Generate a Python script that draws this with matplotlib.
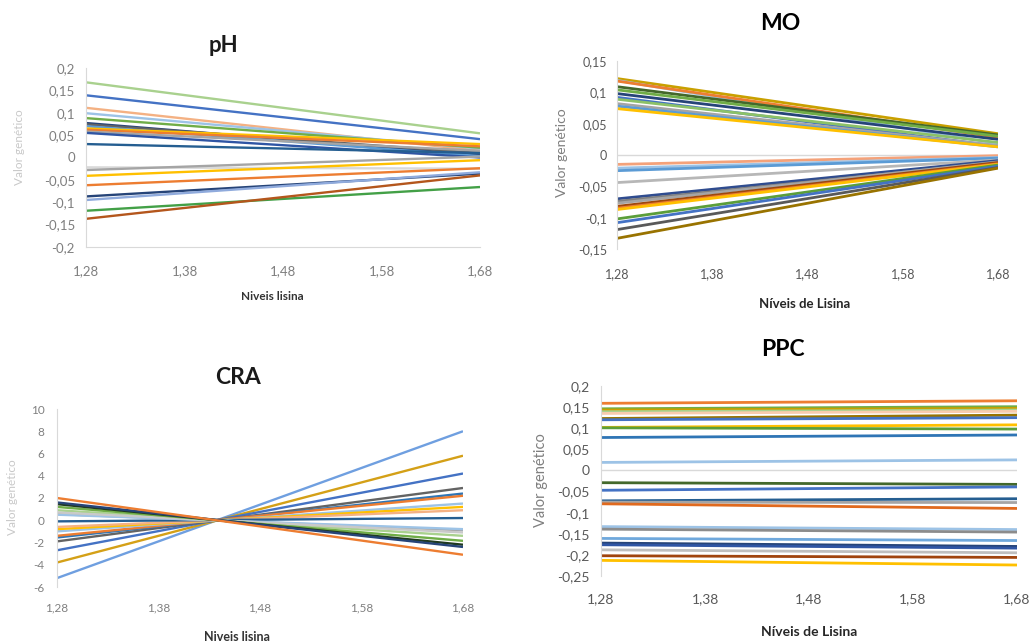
import matplotlib
matplotlib.use("Agg")
from matplotlib import pyplot as plt

plt.rcParams['font.family'] = ['Lato', 'DejaVu Sans']

niveis = [1.28, 1.68]
xticks = [1.28, 1.38, 1.48, 1.58, 1.68]
xtick_labels = ["1,28", "1,38", "1,48", "1,58", "1,68"]

# pH: valor genetico em 1,28 e 1,68
ph_128 = [0.168, 0.139, 0.111, 0.099, 0.088, 0.077, 0.074, 0.070, 0.065, 0.062, 0.058,
          0.055, 0.030, -0.022, -0.028, -0.041, -0.062, -0.087, -0.095, -0.119, -0.137]
ph_168 = [0.054, 0.041, 0.015, 0.020, 0.022, 0.005, 0.010, 0.003, 0.030, 0.025, 0.015,
          0.000, 0.010, -0.025, 0.002, -0.006, -0.024, -0.036, -0.033, -0.066, -0.040]

# MO
mo_128 = [0.122, 0.119, 0.118, 0.109, 0.104, 0.098, 0.092, 0.089, 0.082, 0.078, 0.074,
          -0.015, -0.021, -0.025, -0.044, -0.070, -0.074, -0.077, -0.082, -0.085, -0.087,
          -0.102, -0.108, -0.119, -0.133]
mo_168 = [0.034, 0.018, 0.028, 0.032, 0.030, 0.025, 0.014, 0.020, 0.015, 0.013, 0.013,
          -0.001, -0.004, -0.005, -0.008, -0.009, -0.012, -0.011, -0.012, -0.014, -0.015,
          -0.016, -0.018, -0.020, -0.021]

# CRA
cra_128 = [-5.2, -3.8, -2.7, -1.9, -1.55, -1.4, -1.0, -0.8, -0.6, -0.1, 0.55, 0.5,
           0.9, 0.7, 1.2, 1.45, 1.6, 2.0]
cra_168 = [8.0, 5.8, 4.2, 2.9, 2.4, 2.2, 1.5, 1.2, 0.9, 0.2, -0.9, -0.8,
           -1.4, -1.1, -1.85, -2.2, -2.4, -3.1]

# PPC
ppc_128 = [0.159, 0.146, 0.143, 0.139, 0.135, 0.123, 0.120, 0.102, 0.101, 0.078, 0.019,
           -0.029, -0.047, -0.072, -0.075, -0.079, -0.133, -0.139, -0.161, -0.172, -0.176,
           -0.188, -0.202, -0.213]
ppc_168 = [0.165, 0.151, 0.147, 0.143, 0.140, 0.131, 0.125, 0.108, 0.098, 0.084, 0.025,
           -0.033, -0.039, -0.067, -0.076, -0.090, -0.140, -0.146, -0.166, -0.180, -0.184,
           -0.195, -0.206, -0.224]

ph_colors = ["#A9D18E", "#4472C4", "#F4B183", "#9DC3E6", "#70AD47", "#264478", "#636363",
             "#5B9BD5", "#FFC000", "#ED7D31", "#A5A5A5", "#2F55A4", "#255E91", "#D9D9D9",
             "#A5A5A5", "#FFC000", "#ED7D31", "#264478", "#8FAADC", "#43A047", "#B4561C"]
mo_colors = ["#C9A000", "#9DC3E6", "#ED7D31", "#43682B", "#70AD47", "#264478", "#4472C4",
             "#8CC168", "#A5A5A5", "#5B9BD5", "#FFC000", "#F4A27A", "#9DC3E6", "#5B9BD5",
             "#B7B7B7", "#2F4C8F", "#7F7F7F", "#A5A5A5", "#9E480E", "#ED7D31", "#FFC000",
             "#5B9E3A", "#4472C4", "#595959", "#997300"]
cra_colors = ["#6F9FE0", "#D4A017", "#4472C4", "#636363", "#2F75B5", "#ED7D31", "#9DC3E6",
              "#FFC000", "#F4B183", "#255E91", "#A5A5A5", "#9DC3E6", "#A9D18E", "#C9C9C9",
              "#70AD47", "#1F3A1F", "#264478", "#ED7D31"]
ppc_colors = ["#ED7D31", "#70AD47", "#C9A000", "#A9D18E", "#F8CBAD", "#997300", "#4472C4",
              "#FFC000", "#5B9E3A", "#2F75B5", "#9DC3E6", "#43682B", "#4472C4", "#255E91",
              "#A5A5A5", "#E06A1E", "#9DC3E6", "#8C8C8C", "#6FA8DC", "#264478", "#2F55A4",
              "#BFBFBF", "#A0440E", "#FFC000"]

W, H = 1031, 644
fig = plt.figure(figsize=(W / 100, H / 100), dpi=100)


def box(x0, y0, x1, y1):
    return [x0 / W, 1 - y1 / H, (x1 - x0) / W, (y1 - y0) / H]


def chart(rect, left, right, colors, ylim, yticks, ylabels, lw, tick_color, tick_size,
          xpad, ypad, bottom_line=False, zero_line=False):
    ax = fig.add_axes(rect)
    for a, b, c in zip(left, right, colors):
        ax.plot(niveis, [a, b], color=c, lw=lw, solid_capstyle='butt')
    if zero_line:
        ax.axhline(0, color="#D9D9D9", lw=1.0, zorder=0)
    ax.set_xlim(1.28, 1.68)
    ax.set_ylim(*ylim)
    ax.set_xticks(xticks)
    ax.set_xticklabels(xtick_labels)
    ax.set_yticks(yticks)
    ax.set_yticklabels(ylabels)
    for s in ["top", "right"]:
        ax.spines[s].set_visible(False)
    ax.spines["bottom"].set_visible(bottom_line)
    ax.spines["left"].set_color("#D9D9D9")
    ax.spines["bottom"].set_color("#D9D9D9")
    ax.tick_params(axis="x", length=0, pad=xpad, labelsize=tick_size, colors=tick_color)
    ax.tick_params(axis="y", length=0, pad=ypad, labelsize=tick_size, colors=tick_color)
    ax.patch.set_alpha(0)
    return ax


def label(x, y, s, **kw):
    fig.text(x / W, 1 - y / H, s, ha="center", va="center", **kw)


# pH
chart(box(86, 68, 480, 247), ph_128, ph_168, ph_colors, (-0.2, 0.2),
      [-0.2, -0.15, -0.1, -0.05, 0, 0.05, 0.1, 0.15, 0.2],
      ["-0,2", "-0,15", "-0,1", "-0,05", "0", "0,05", "0,1", "0,15", "0,2"],
      1.7, "#7F7F7F", 9.5, 13, 8, bottom_line=True)
label(223, 45, "pH", fontsize=16, fontweight="bold", color="#1a1a1a")
label(272, 297, "Niveis lisina", fontsize=8.5, fontweight="bold", color="#333333")
label(20, 147, "Valor genético", fontsize=8.5, rotation=90, color="#C8C8C8")

# MO
chart(box(617, 61, 998, 249), mo_128, mo_168, mo_colors, (-0.15, 0.15),
      [-0.15, -0.1, -0.05, 0, 0.05, 0.1, 0.15],
      ["-0,15", "-0,1", "-0,05", "0", "0,05", "0,1", "0,15"],
      2.0, "#595959", 9, 14, 7, zero_line=True)
label(780, 23, "MO", fontsize=16.5, fontweight="bold", color="#000000")
label(805, 304, "Níveis de Lisina", fontsize=9.5, fontweight="bold", color="#262626")
label(562, 153, "Valor genético", fontsize=10, rotation=90, color="#7F7F7F")

# CRA
chart(box(57, 409, 463, 587), cra_128, cra_168, cra_colors, (-6, 10),
      [-6, -4, -2, 0, 2, 4, 6, 8, 10],
      ["-6", "-4", "-2", "0", "2", "4", "6", "8", "10"],
      1.7, "#808080", 8.5, 11, 9)
label(238, 377, "CRA", fontsize=16.5, fontweight="bold", color="#1a1a1a")
label(237, 637, "Niveis lisina", fontsize=9, fontweight="bold", color="#333333")
label(13, 497, "Valor genético", fontsize=8.5, rotation=90, color="#C8C8C8")

# PPC
chart(box(601, 386, 1017, 576), ppc_128, ppc_168, ppc_colors, (-0.25, 0.2),
      [-0.25, -0.2, -0.15, -0.1, -0.05, 0, 0.05, 0.1, 0.15, 0.2],
      ["-0,25", "-0,2", "-0,15", "-0,1", "-0,05", "0", "0,05", "0,1", "0,15", "0,2"],
      2.0, "#595959", 10, 12, 8, zero_line=True)
label(783, 350, "PPC", fontsize=16.5, fontweight="bold", color="#000000")
label(809, 632, "Níveis de Lisina", fontsize=10, fontweight="bold", color="#262626")
label(541, 480, "Valor genético", fontsize=10.5, rotation=90, color="#7F7F7F")

fig.savefig("out.png", dpi=100)
